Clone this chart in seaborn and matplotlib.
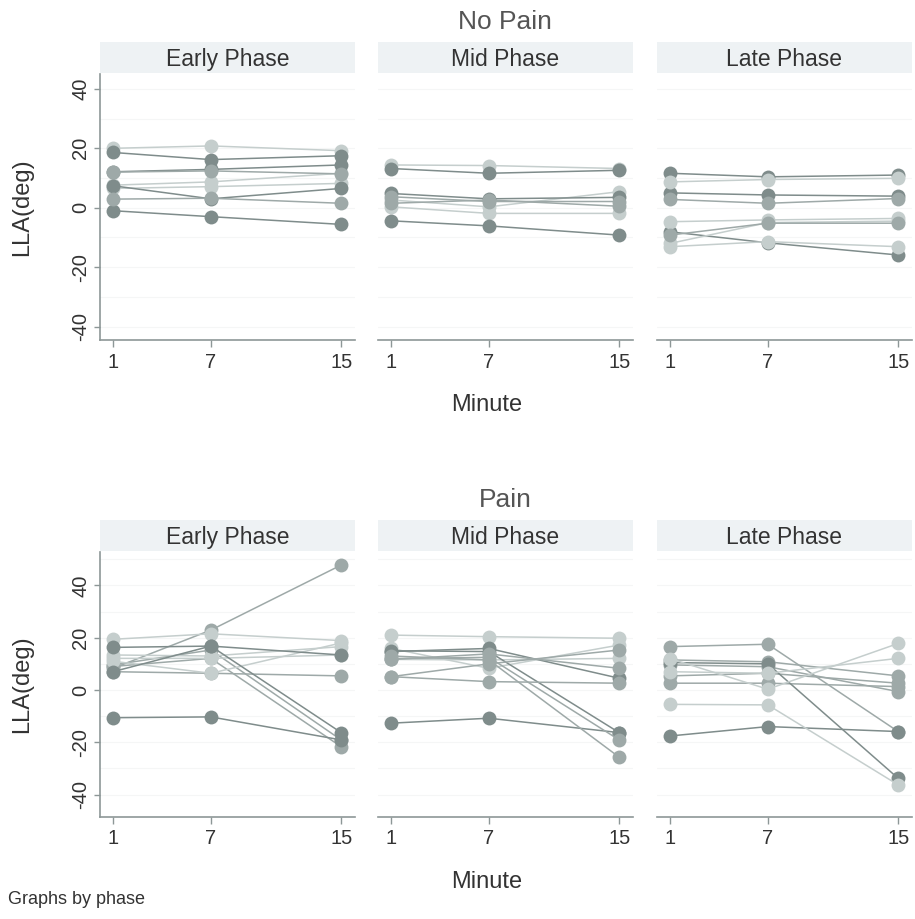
import pandas as pd
import seaborn as sns
import matplotlib.pyplot as plt

# data (LLA in degrees at minutes 1, 7, 15)
minutes = [1, 7, 15]
phases = ['Early Phase', 'Mid Phase', 'Late Phase']
groups = ['No Pain', 'Pain']

np_early = [[20.0, 20.8, 19.2], [18.6, 16.2, 17.5], [12.1, 12.9, 14.4], [12.0, 12.4, 11.4],
            [7.6, 8.7, 11.6], [6.5, 7.1, 8.2], [7.4, 3.0, 6.5], [2.9, 3.2, 1.5], [-1.0, -3.0, -5.6]]
np_early_shade = ['light', 'dark', 'dark', 'mid', 'light', 'light', 'dark', 'mid', 'dark']

np_mid = [[14.4, 14.2, 13.2], [13.2, 11.6, 12.6], [4.8, 3.0, 3.5], [3.7, 2.1, 2.1],
          [2.6, 0.3, 5.4], [1.5, 2.6, 0.5], [0.3, -1.9, -1.9], [-4.4, -6.1, -9.2]]
np_mid_shade = ['light', 'dark', 'dark', 'mid', 'light', 'mid', 'light', 'dark']

np_late = [[11.6, 10.4, 11.0], [8.7, 9.5, 9.9], [5.0, 4.3, 3.9], [2.8, 1.5, 3.1], [-4.7, -4.1, -3.6],
           [-8.1, -11.8, -15.9], [-9.2, -5.2, -5.2], [-12.0, -5.0, -4.5], [-13.1, -11.4, -13.1]]
np_late_shade = ['dark', 'light', 'dark', 'mid', 'light', 'dark', 'mid', 'light', 'light']

p_early = [[8.3, 22.9, 47.8], [19.4, 21.5, 18.9], [16.3, 16.8, 13.4], [13.4, 13.0, 16.6],
           [12.1, 12.1, 13.4], [9.6, 15.3, -19.1], [7.0, 16.8, -16.3], [9.0, 12.1, -21.7],
           [7.0, 6.4, 5.4], [11.0, 6.4, 18.0], [-10.6, -10.3, -19.1]]
p_early_shade = ['mid', 'light', 'dark', 'light', 'light', 'mid', 'dark', 'mid', 'mid', 'light', 'dark']

p_mid = [[21.0, 20.4, 19.8], [15.9, 8.3, 17.2], [14.7, 15.9, 4.5], [15.0, 14.7, -16.3],
         [11.7, 13.8, 8.3], [11.7, 11.5, 12.1], [12.0, 12.5, -19.1], [13.0, 11.5, -25.7],
         [5.1, 10.0, 15.3], [5.1, 3.2, 2.6], [-12.7, -10.8, -16.3]]
p_mid_shade = ['light', 'light', 'dark', 'dark', 'mid', 'light', 'mid', 'mid', 'mid', 'mid', 'dark']

p_late = [[16.6, 17.5, -15.9], [11.5, 10.8, 5.4], [10.5, 10.0, -33.8], [12.0, 0.3, 17.8],
          [9.6, 8.9, -0.6], [7.0, 6.4, 12.1], [5.4, 6.4, 2.6], [2.6, 2.6, 1.3],
          [-5.5, -5.7, -36.3], [-17.6, -14.0, -15.9]]
p_late_shade = ['mid', 'mid', 'dark', 'light', 'mid', 'light', 'mid', 'mid', 'light', 'dark']

yticks = [-40, -20, 0, 20, 40]

palette = {'dark': '#7f8c8b', 'mid': '#9ea9a8', 'light': '#c5cecd'}

panels = {
    ('No Pain', 'Early Phase'): (np_early, np_early_shade),
    ('No Pain', 'Mid Phase'): (np_mid, np_mid_shade),
    ('No Pain', 'Late Phase'): (np_late, np_late_shade),
    ('Pain', 'Early Phase'): (p_early, p_early_shade),
    ('Pain', 'Mid Phase'): (p_mid, p_mid_shade),
    ('Pain', 'Late Phase'): (p_late, p_late_shade),
}

# long table
rows = []
for (grp, ph), (series, shades) in panels.items():
    for i, (vals, sh) in enumerate(zip(series, shades)):
        for m, v in zip(minutes, vals):
            rows.append({'group': grp, 'phase': ph, 'subject': i, 'shade': sh,
                         'minute': m, 'lla': v})
df = pd.DataFrame(rows)

sns.set_theme(style='white')
plt.rcParams['font.family'] = ['Liberation Sans', 'DejaVu Sans']
plt.rcParams['axes.unicode_minus'] = False

W, H = 915, 919
fig = plt.figure(figsize=(W / 100, H / 100), dpi=100)


def box(x0, y0, x1, y1):
    # pixel box -> figure fraction
    return [x0 / W, 1 - y1 / H, (x1 - x0) / W, (y1 - y0) / H]


col_x = [(100, 355), (378, 633), (657, 912)]
row_y = {'No Pain': (74, 340), 'Pain': (552, 817)}
strip_y = {'No Pain': (42, 73), 'Pain': (520, 551)}
ylims = {'No Pain': (-44.5, 45), 'Pain': (-48.6, 52.8)}
title_y = {'No Pain': 22, 'Pain': 500}
minute_y = {'No Pain': 405, 'Pain': 882}

spine_c = '#8d9797'
text_c = '#333333'

for grp in groups:
    for j, ph in enumerate(phases):
        x0, x1 = col_x[j]
        ax = fig.add_axes(box(x0, row_y[grp][0], x1, row_y[grp][1]))
        sub = df[(df['group'] == grp) & (df['phase'] == ph)]
        for yt in range(-40, 60, 10):
            ax.axhline(yt, color='#f5f6f6', lw=0.8, zorder=0)
        sns.lineplot(data=sub, x='minute', y='lla', hue='shade', units='subject',
                     estimator=None, palette=palette, marker='o', markersize=10,
                     markeredgewidth=0, linewidth=1.1, legend=False, ax=ax)
        ax.set_xlim(0.2, 15.85)
        ax.set_ylim(*ylims[grp])
        ax.set_xticks(minutes)
        ax.set_xticklabels([str(m) for m in minutes])
        ax.set_xlabel('')
        ax.set_ylabel('')
        for s in ['top', 'right']:
            ax.spines[s].set_visible(False)
        ax.spines['bottom'].set_color(spine_c)
        ax.spines['bottom'].set_linewidth(1.2)
        ax.tick_params(axis='x', length=5, width=1, color=spine_c, labelsize=14.5,
                       labelcolor=text_c, pad=4, bottom=True)
        if j == 0:
            ax.spines['left'].set_color(spine_c)
            ax.spines['left'].set_linewidth(1.2)
            ax.set_yticks(yticks)
            ax.tick_params(axis='y', length=4, width=1, color=spine_c, labelsize=14.5,
                           labelcolor=text_c, pad=3, left=True, labelrotation=90)
            for lbl in ax.get_yticklabels():
                lbl.set_va('center')
            ax.set_ylabel('LLA(deg)', fontsize=17, color=text_c)
            ax.yaxis.set_label_coords(-0.263, 0.5)
        else:
            ax.spines['left'].set_visible(False)
            ax.set_yticks([])

        # strip header
        sax = fig.add_axes(box(x0, strip_y[grp][0], x1, strip_y[grp][1]))
        sax.set_facecolor('#eef2f4')
        sax.set_xticks([])
        sax.set_yticks([])
        for s in sax.spines.values():
            s.set_visible(False)
        sax.text(0.5, 0.45, ph, ha='center', va='center', fontsize=16.5,
                 color=text_c, transform=sax.transAxes)

    fig.text(505 / W, 1 - title_y[grp] / H, grp, ha='center', va='center',
             fontsize=19, color='#555555')
    fig.text(487 / W, 1 - minute_y[grp] / H, 'Minute', ha='center', va='center',
             fontsize=17, color=text_c)

fig.text(8 / W, 1 - 900 / H, 'Graphs by phase', ha='left', va='center',
         fontsize=13, color=text_c)

fig.savefig('out.png', dpi=100)
